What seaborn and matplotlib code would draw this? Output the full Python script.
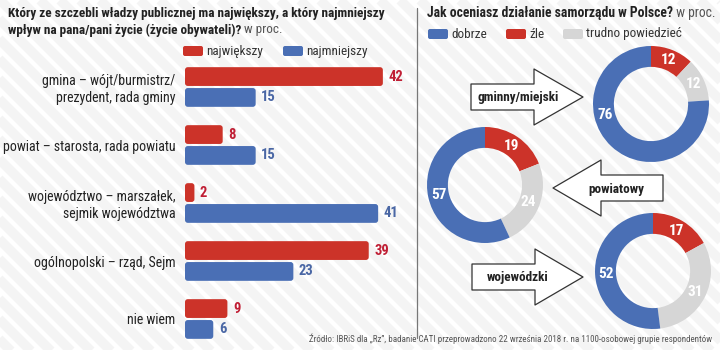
import numpy as np
import pandas as pd
import matplotlib
matplotlib.use("Agg")
import matplotlib.pyplot as plt
import seaborn as sns
from matplotlib import font_manager
from matplotlib.patches import Polygon, FancyBboxPatch

# ---- data ----
levels = ["gmina – wójt/burmistrz/\nprezydent, rada gminy",
          "powiat – starosta, rada powiatu",
          "województwo – marszałek,\nsejmik województwa",
          "ogólnopolski – rząd, Sejm",
          "nie wiem"]
largest = [42, 8, 2, 39, 9]
smallest = [15, 15, 41, 23, 6]
series_names = ["największy", "najmniejszy"]

donut_names = ["gminny/miejski", "powiatowy", "wojewódzki"]
good = [76, 57, 52]
bad = [12, 19, 17]
hard = [12, 24, 31]
answer_names = ["dobrze", "źle", "trudno powiedzieć"]

RED = "#cc3329"
BLUE = "#4a6fb5"
GRAY = "#d6d6d6"
RED_TXT = "#c01f35"
BLUE_TXT = "#4a67a5"
DARK = "#222222"

sns.set_theme(style="white")
avail = {f.name for f in font_manager.fontManager.ttflist}
font = "DejaVu Sans"
for cand in ["Liberation Sans Narrow", "DejaVu Sans Condensed", "Roboto Condensed", "Open Sans Condensed"]:
    if cand in avail:
        font = cand
        break
plt.rcParams["font.family"] = [font, "DejaVu Sans"]

W, H = 720, 350
fig = plt.figure(figsize=(W / 100, H / 100), dpi=100)
fig.patch.set_facecolor("white")


def fx(px):
    return px / W


def fy(py):
    return 1 - py / H


# background layer in pixel coords
bg = fig.add_axes([0, 0, 1, 1], zorder=0)
bg.set_xlim(0, W)
bg.set_ylim(H, 0)
bg.axis("off")
for s in np.arange(-400, W + 40, 20):
    bg.plot([s, s + 400], [0, 400], color="#f4f4f4", lw=7, solid_capstyle="butt", zorder=0)

# ---- left: bar chart ----
df = pd.DataFrame({
    "level": levels * 2,
    "value": largest + smallest,
    "series": [series_names[0]] * len(levels) + [series_names[1]] * len(levels),
})
ax = fig.add_axes([fx(185), fy(348), (397 - 185) / W, 290 / H], zorder=2)
sns.barplot(data=df, y="level", x="value", hue="series", palette=[RED, BLUE],
            saturation=1, width=0.72, gap=0.1, ax=ax, legend=False)
ax.set_xlim(0, 45)
ax.set_ylim(len(levels) - 0.5, -0.5)
ax.patch.set_alpha(0)
for sp in ax.spines.values():
    sp.set_visible(False)
ax.set_xticks([])
ax.set_xlabel("")
ax.set_ylabel("")
ax.tick_params(axis="y", length=0, pad=7)
for t in ax.get_yticklabels():
    t.set_fontsize(10)
    t.set_color(DARK)
    t.set_horizontalalignment("right")

for cont, col in zip(ax.containers, [RED_TXT, BLUE_TXT]):
    ax.bar_label(cont, padding=4, color=col, fontsize=10.5, fontweight="bold")
    for p in cont:
        x, y = p.get_x(), p.get_y()
        w, h = p.get_width(), p.get_height()
        rb = FancyBboxPatch((x, y), w, h, boxstyle="round,pad=0,rounding_size=0.6",
                            mutation_aspect=0.08, fc=p.get_facecolor(), ec="none")
        ax.add_patch(rb)
        p.set_visible(False)


def legend_item(x, y, color, label):
    bg.add_patch(FancyBboxPatch((x, y - 5), 20, 10, boxstyle="round,pad=0,rounding_size=2",
                                fc=color, ec="none", zorder=3))
    bg.text(x + 23, y, label, fontsize=9.5, color="#333333", va="center", ha="left", zorder=3)


legend_item(183, 51, RED, series_names[0])
legend_item(283, 51, BLUE, series_names[1])

fig.canvas.draw()
renderer = fig.canvas.get_renderer()


def title(x, y, bold_txt, light_txt, size=9.5):
    t = bg.text(x, y, bold_txt, fontsize=size, fontweight="bold", color=DARK, va="center", ha="left")
    if light_txt:
        bb = t.get_window_extent(renderer)
        bg.text(x + bb.width, y, light_txt, fontsize=size, color="#555555", va="center", ha="left")


title(8, 13, "Który ze szczebli władzy publicznej ma największy, a który najmniejszy", None)
title(8, 30, "wpływ na pana/pani życie (życie obywateli)?", " w proc.")
title(427, 13, "Jak oceniasz działanie samorządu w Polsce?", " w proc.", size=9.8)

# divider
bg.plot([417, 417], [8, 338], color="#777777", lw=0.9)

# ---- right: donuts ----
legend_item(428, 34, BLUE, answer_names[0])
legend_item(506, 34, RED, answer_names[1])
legend_item(563, 34, GRAY, answer_names[2])

centers = [(651, 104), (485, 185), (653, 271)]
R = 58
for (cx, cy), g, b, hd in zip(centers, good, bad, hard):
    dax = fig.add_axes([fx(cx - 60), fy(cy + 60), 120 / W, 120 / H], zorder=2)
    vals = [b, hd, g]
    dax.pie(vals, colors=[RED, GRAY, BLUE], startangle=90, counterclock=False,
            radius=1, wedgeprops=dict(width=0.36, edgecolor="none"))
    dax.set_xlim(-60 / R, 60 / R)
    dax.set_ylim(-60 / R, 60 / R)
    dax.set_aspect("equal")
    dax.axis("off")
    cum = 0
    for i, v in enumerate(vals):
        mid = 90 - (cum + v / 2) * 3.6
        if i == 2:
            mid = min(mid, -167)
        cum += v
        a = np.deg2rad(mid)
        dax.text(0.81 * np.cos(a), 0.81 * np.sin(a), str(v), color="white", fontsize=11,
                 fontweight="bold", ha="center", va="center")


def arrow(tail_x, base_x, tip_x, cy, label, text_x):
    bh, hh = 13, 28
    pts = [(tail_x, cy - bh), (base_x, cy - bh), (base_x, cy - hh), (tip_x, cy),
           (base_x, cy + hh), (base_x, cy + bh), (tail_x, cy + bh)]
    bg.add_patch(Polygon(pts, closed=True, fc="white", ec="#333333", lw=0.9,
                         joinstyle="round", zorder=3))
    bg.text(text_x, cy + 1, label, fontsize=9.5, fontweight="bold", color=DARK,
            ha="center", va="center", zorder=4)


arrow(471, 534, 583, 97, donut_names[0], 518)
arrow(663, 601, 553, 188, donut_names[1], 616)
arrow(472, 535, 583, 277, donut_names[2], 518)

bg.text(712, 339, "Źródło: IBRiS dla „Rz”, badanie CATI przeprowadzono 22 września 2018 r. "
        "na 1100-osobowej grupie respondentów", fontsize=6.5, color="#555555",
        ha="right", va="center")

fig.savefig("out.png", dpi=100)
